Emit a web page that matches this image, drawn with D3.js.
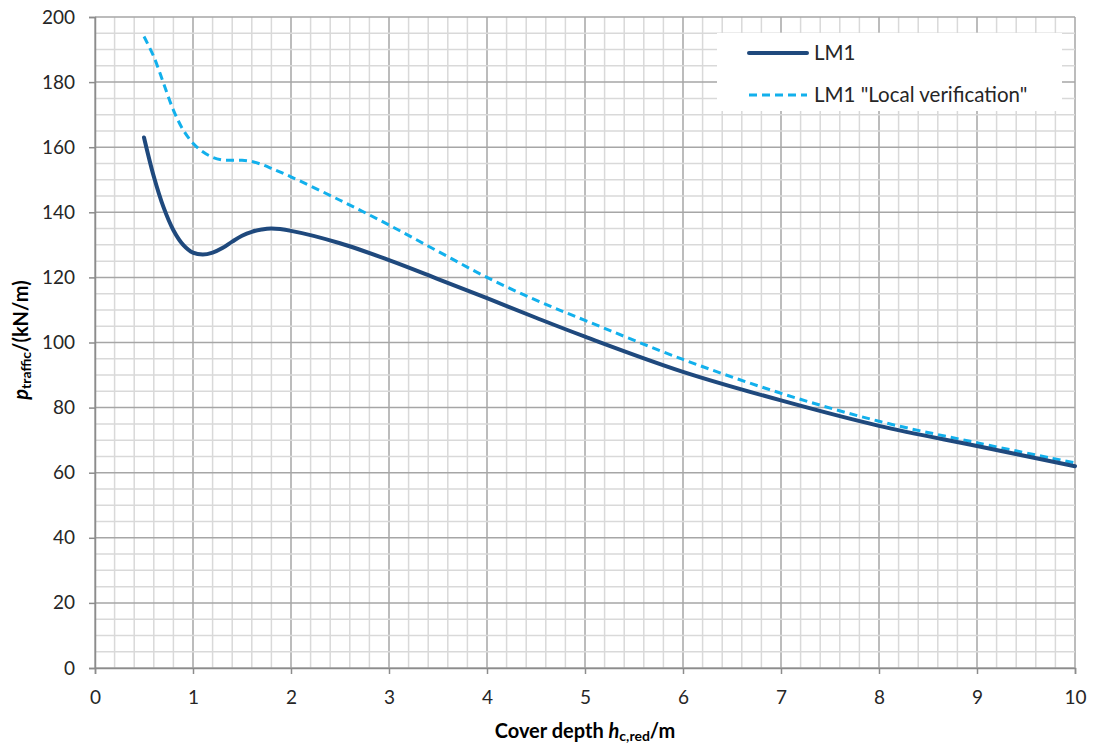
<!DOCTYPE html>
<html><head><meta charset="utf-8">
<script src="https://cdn.jsdelivr.net/npm/d3@7"></script>
<style>body{margin:0;background:#fff;} svg{display:block;font-family:Lato,"Open Sans",sans-serif;}</style>
</head><body><svg id="c" width="1094" height="749"></svg>
<script>
const xs = [0.5,0.6,0.7,0.8,0.9,1.0,1.1,1.2,1.3,1.4,1.5,1.6,1.7,1.8,2.0,2.5,3,3.5,4,4.5,5,6,7,8,9,10];
const lm1 = [163,151,141.5,134.5,130,127.6,127,127.6,129,131,132.8,134,134.7,135,134.3,130.5,125.3,119.5,113.6,107.6,101.8,91,82.2,74.4,68.2,62];
const lm1Local = [194,187.8,179.6,171.4,165.3,161.2,158.6,156.9,156.1,156,156,155.6,154.7,153.5,150.9,143.7,136.1,128,120,113,106.8,94.8,84.4,75.8,69.2,63];
const xTicks = [0,1,2,3,4,5,6,7,8,9,10];
const yTicks = [0,20,40,60,80,100,120,140,160,180,200];
const seriesNames = ["LM1", "LM1 \"Local verification\""];

const svg = d3.select("#c");
const L=95, R=1075, T=17, B=668;
const x = d3.scaleLinear().domain([0,10]).range([L,R]);
const y = d3.scaleLinear().domain([0,200]).range([B,T]);

// grid
const g = svg.append("g");
g.selectAll(".vx").data(d3.range(0,10.001,0.2)).join("line")
  .attr("x1",d=>x(d)).attr("x2",d=>x(d)).attr("y1",T).attr("y2",B)
  .attr("stroke",d=>Math.abs(d-Math.round(d))<1e-6?"#a6a6a6":"#d9d9d9").attr("stroke-width",1.5);
g.selectAll(".hy").data(d3.range(0,200.001,5)).join("line")
  .attr("y1",d=>y(d)).attr("y2",d=>y(d)).attr("x1",L).attr("x2",R)
  .attr("stroke",d=>d%20===0?"#a6a6a6":"#d9d9d9").attr("stroke-width",1.5);

// axes
const xa = svg.append("g").attr("transform",`translate(0,${B})`)
  .call(d3.axisBottom(x).tickValues(xTicks).tickSize(6).tickPadding(17).tickFormat(d3.format("d")));
const ya = svg.append("g").attr("transform",`translate(${L},0)`)
  .call(d3.axisLeft(y).tickValues(yTicks).tickSize(6).tickPadding(14).tickFormat(d3.format("d")));
[xa,ya].forEach(a=>{
  a.select(".domain").attr("stroke","#8c8c8c").attr("stroke-width",1.5);
  a.selectAll(".tick line").attr("stroke","#8c8c8c").attr("stroke-width",1.5);
  a.selectAll("text").attr("font-size",19).attr("fill","#262626").attr("font-family","Lato");
});

// lines
const line = d3.line().x((d,i)=>x(xs[i])).y(d=>y(d)).curve(d3.curveCatmullRom.alpha(0.5));
svg.append("path").attr("d",line(lm1Local)).attr("fill","none").attr("stroke","#12b0ec")
  .attr("stroke-width",3).attr("stroke-dasharray","8,5");
svg.append("path").attr("d",line(lm1)).attr("fill","none").attr("stroke","#1f497d")
  .attr("stroke-width",4).attr("stroke-linecap","round");

// legend
const lg = svg.append("g");
lg.append("rect").attr("x",717).attr("y",33).attr("width",345).attr("height",78).attr("fill","#fff");
lg.append("line").attr("x1",749).attr("x2",807).attr("y1",53).attr("y2",53).attr("stroke","#1f497d").attr("stroke-width",4).attr("stroke-linecap","round");
lg.append("line").attr("x1",749).attr("x2",807).attr("y1",95).attr("y2",95).attr("stroke","#12b0ec").attr("stroke-width",3).attr("stroke-dasharray","8,5");
lg.selectAll("text").data(seriesNames).join("text")
  .attr("x",814).attr("y",(d,i)=>[53,95][i]+7).attr("font-size",20.5).attr("fill","#262626").text(d=>d);

// axis titles
const xt = svg.append("text").attr("x",585).attr("y",738).attr("text-anchor","middle")
  .attr("font-size",20).attr("font-weight","bold").attr("fill","#000");
xt.append("tspan").text("Cover depth ");
xt.append("tspan").attr("font-style","italic").text("h");
xt.append("tspan").attr("font-size",14).attr("dy",3).text("c,red");
xt.append("tspan").attr("dy",-3).text("/m");

const yt = svg.append("text").attr("transform","translate(28,340) rotate(-90)").attr("text-anchor","middle")
  .attr("font-size",20).attr("font-weight","bold").attr("fill","#000");
yt.append("tspan").attr("font-style","italic").text("p");
yt.append("tspan").attr("font-size",14).attr("dy",3).text("traffic");
yt.append("tspan").attr("dy",-3).text("/(kN/m)");
</script></body></html>
